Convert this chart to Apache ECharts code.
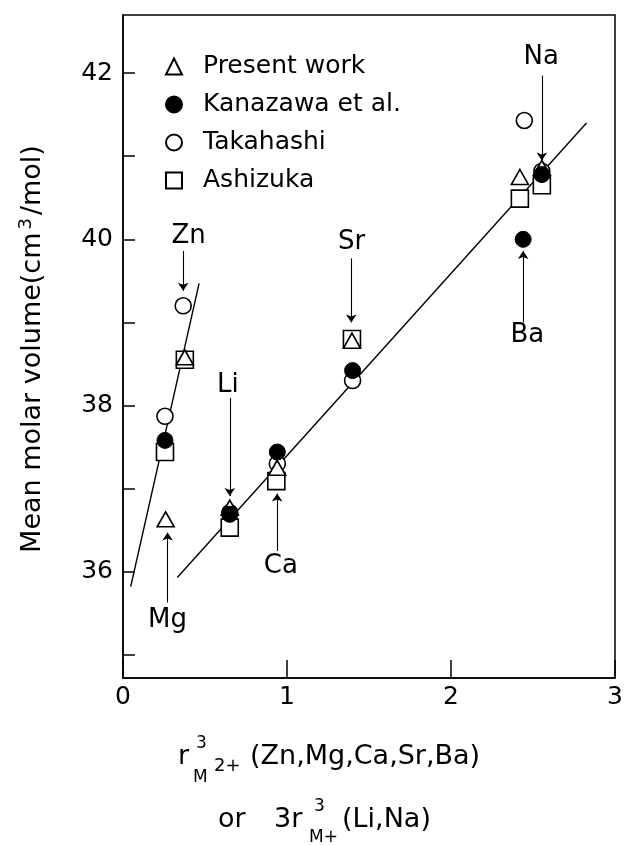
<!DOCTYPE html>
<html>
<head>
<meta charset="utf-8">
<script src="https://cdn.jsdelivr.net/npm/echarts@6/dist/echarts.min.js"></script>
<style>
  html, body { margin: 0; padding: 0; background: #fff; }
  #chart { width: 639px; height: 845px; }
</style>
</head>
<body>
<div id="chart"></div>
<script>
const FONT = 'DejaVu Sans'

// [x, y] per ion: Zn, Mg, Ca, Sr, Ba, Li, Na
const presentWork = [[0.377, 38.58], [0.26, 36.63], [0.94, 37.25], [1.396, 38.78], [2.42, 40.75], [0.651, 36.77], [2.554, 40.86]]
const kanazawa = [[0.256, 37.58], [0.941, 37.44], [1.40, 38.42], [2.44, 40.0], [0.651, 36.69], [2.554, 40.78]]
const takahashi = [[0.367, 39.20], [0.256, 37.87], [0.941, 37.30], [1.40, 38.30], [2.447, 41.43], [0.651, 36.71], [2.554, 40.82]]
const ashizuka = [[0.377, 38.55], [0.256, 37.44], [0.935, 37.09], [1.396, 38.80], [2.42, 40.49], [0.651, 36.53], [2.554, 40.65]]

// fitted lines
const lineDivalent = [[0.047, 35.82], [0.464, 39.47]]
const lineMain = [[0.331, 35.93], [2.826, 41.40]]

// ion labels and their arrows
const ionNames = ['Na', 'Zn', 'Sr', 'Ba', 'Li', 'Ca', 'Mg']
const ionLabelPos = [[2.55, 42.19], [0.40, 40.04], [1.394, 39.96], [2.465, 38.84], [0.64, 38.24], [0.962, 36.06], [0.271, 35.42]]
const ionArrows = [
  [[2.554, 41.97], [2.554, 40.95]],
  [[0.367, 39.86], [0.367, 39.38]],
  [[1.392, 39.77], [1.392, 39.0]],
  [[2.44, 39.0], [2.44, 39.86]],
  [[0.651, 38.09], [0.651, 36.91]],
  [[0.94, 36.25], [0.94, 36.94]],
  [[0.272, 35.63], [0.272, 36.47]],
]

const yTicks = [35, 36, 37, 38, 39, 40, 41, 42]
const yLabels = [36, 38, 40, 42]

const chart = echarts.init(document.getElementById('chart'), null, { renderer: 'canvas' })

const marker = {
  color: '#fff',
  borderColor: '#000',
  borderWidth: 1.6,
  opacity: 1,
}

function fitLine(data) {
  return {
    type: 'line',
    data,
    symbol: 'none',
    silent: true,
    z: 1,
    itemStyle: { color: '#000' },
    lineStyle: { color: '#000', width: 1.4 },
  }
}

const arrows = fitLine(lineMain)
arrows.markLine = {
  silent: true,
  symbol: ['none', 'arrow'],
  symbolSize: 8,
  label: { show: false },
  itemStyle: { color: '#000' },
  lineStyle: { color: '#000', width: 1.1, type: 'solid', opacity: 1 },
  data: ionArrows.map(a => [{ coord: a[0] }, { coord: a[1] }]),
}

const option = {
  backgroundColor: '#fff',
  animation: false,
  textStyle: { fontFamily: FONT, color: '#000' },
  grid: {
    left: 123,
    right: 24,
    top: 15,
    bottom: 167,
    show: true,
    borderColor: '#000',
    borderWidth: 1.5,
  },
  legend: {
    orient: 'vertical',
    left: 160,
    top: 49,
    itemWidth: 16,
    itemHeight: 16,
    itemGap: 13,
    data: ['Present work', 'Kanazawa et al.', 'Takahashi', 'Ashizuka'],
    textStyle: { fontFamily: FONT, fontSize: 25, color: '#000', padding: [0, 0, 0, 16] },
  },
  xAxis: {
    type: 'value',
    min: 0,
    max: 3,
    interval: 1,
    splitLine: { show: false },
    axisLine: { lineStyle: { color: '#000', width: 1.5 } },
    axisTick: { inside: true, length: 18, lineStyle: { color: '#000', width: 1.5 } },
    axisLabel: { fontFamily: FONT, fontSize: 25, color: '#000', margin: 7 },
  },
  yAxis: {
    type: 'value',
    min: 34.72,
    max: 42.7,
    splitLine: { show: false },
    axisLine: { lineStyle: { color: '#000', width: 1.5 } },
    axisTick: { inside: true, length: 12, customValues: yTicks, lineStyle: { color: '#000', width: 1.5 } },
    axisLabel: { fontFamily: FONT, fontSize: 25, color: '#000', margin: 10, customValues: yLabels },
  },
  graphic: [
    {
      type: 'text', x: 33, y: 349, rotation: Math.PI / 2,
      style: {
        text: 'Mean molar volume(cm{s|3}/mol)',
        font: '27px ' + FONT, fill: '#000', align: 'center', verticalAlign: 'middle',
        rich: { s: { fontSize: 18, fontFamily: FONT, padding: [0, 3, 14, 3] } },
      },
    },
    { type: 'text', x: 178, y: 757, style: { text: 'r', font: '27px ' + FONT, fill: '#000', verticalAlign: 'middle' } },
    { type: 'text', x: 196, y: 744, style: { text: '3', font: '17px ' + FONT, fill: '#000', verticalAlign: 'middle' } },
    { type: 'text', x: 193, y: 778, style: { text: 'M', font: '17px ' + FONT, fill: '#000', verticalAlign: 'middle' } },
    { type: 'text', x: 214, y: 766, style: { text: '2+', font: '18px ' + FONT, fill: '#000', verticalAlign: 'middle' } },
    { type: 'text', x: 250, y: 757, style: { text: '(Zn,Mg,Ca,Sr,Ba)', font: '27px ' + FONT, fill: '#000', verticalAlign: 'middle' } },
    { type: 'text', x: 218, y: 820, style: { text: 'or', font: '27px ' + FONT, fill: '#000', verticalAlign: 'middle' } },
    { type: 'text', x: 274, y: 820, style: { text: '3r', font: '27px ' + FONT, fill: '#000', verticalAlign: 'middle' } },
    { type: 'text', x: 314, y: 807, style: { text: '3', font: '17px ' + FONT, fill: '#000', verticalAlign: 'middle' } },
    { type: 'text', x: 309, y: 838, style: { text: 'M+', font: '17px ' + FONT, fill: '#000', verticalAlign: 'middle' } },
    { type: 'text', x: 342, y: 820, style: { text: '(Li,Na)', font: '27px ' + FONT, fill: '#000', verticalAlign: 'middle' } },
  ],
  series: [
    fitLine(lineDivalent),
    arrows,
    {
      name: 'Ashizuka',
      type: 'scatter',
      data: ashizuka,
      symbol: 'rect',
      symbolSize: 17,
      itemStyle: marker,
      z: 2,
    },
    {
      name: 'Takahashi',
      type: 'scatter',
      data: takahashi,
      symbol: 'circle',
      symbolSize: 16,
      itemStyle: marker,
      z: 3,
    },
    {
      name: 'Present work',
      type: 'scatter',
      data: presentWork,
      symbol: 'triangle',
      symbolSize: [17, 15],
      itemStyle: marker,
      z: 4,
    },
    {
      name: 'Kanazawa et al.',
      type: 'scatter',
      data: kanazawa,
      symbol: 'circle',
      symbolSize: 16,
      itemStyle: { color: '#000', borderColor: '#000', borderWidth: 1, opacity: 1 },
      z: 5,
    },
    {
      name: 'ions',
      type: 'scatter',
      silent: true,
      symbolSize: 1,
      itemStyle: { color: 'transparent', opacity: 1 },
      data: ionNames.map((n, i) => ({ name: n, value: ionLabelPos[i] })),
      label: {
        show: true,
        position: 'inside',
        formatter: '{b}',
        fontFamily: FONT,
        fontSize: 26,
        color: '#000',
      },
    },
  ],
}

chart.setOption(option)
</script>
</body>
</html>
